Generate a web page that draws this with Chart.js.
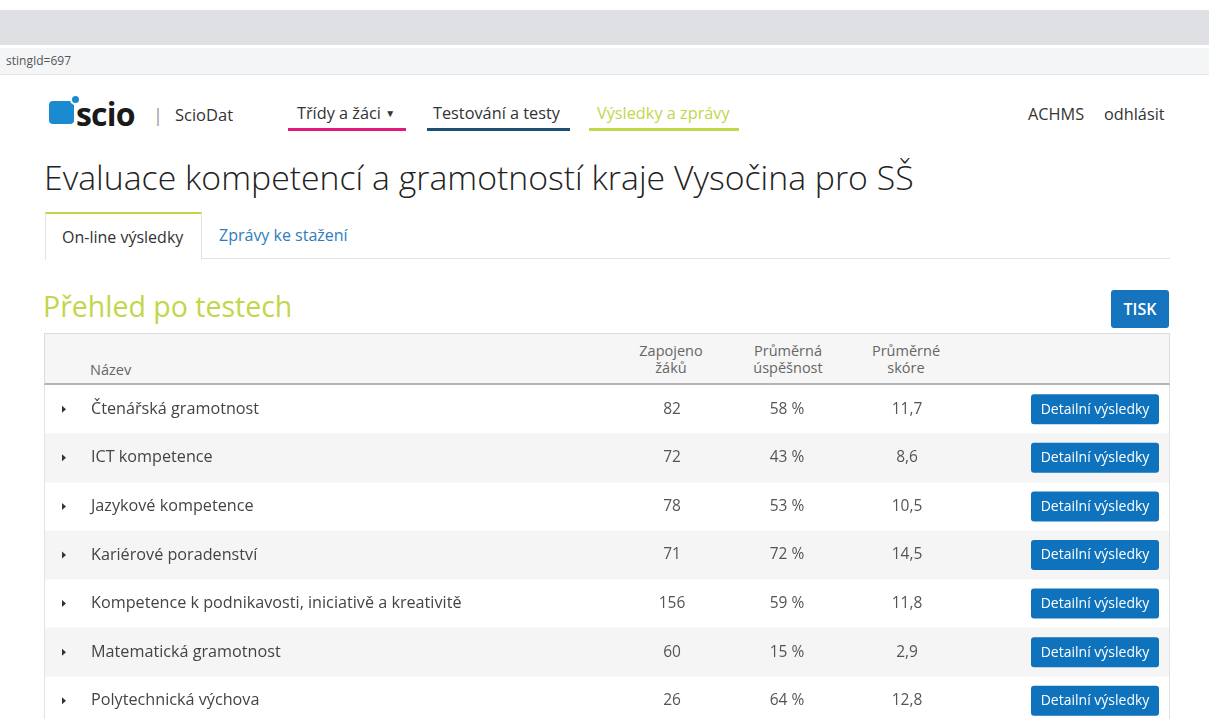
<!DOCTYPE html>
<html lang="cs">
<head>
<meta charset="utf-8">
<title>ScioDat – Přehled po testech</title>
<script src="https://cdn.jsdelivr.net/npm/chart.js@4/dist/chart.umd.min.js"></script>
<style>
  html, body { margin: 0; padding: 0; }
  body {
    width: 1209px; height: 719px; overflow: hidden; position: relative;
    background: #fff; font-family: "Open Sans", "Noto Sans", sans-serif; color: #333;
  }
  .abs { position: absolute; white-space: nowrap; }
  .chrome { left: 0; top: 10px; width: 1209px; height: 35px; background: #dee0e3; }
  .addr { left: 0; top: 48px; width: 1209px; height: 26px; background: #f4f5f6; border-bottom: 1px solid #e6e6e6; }
  .addr span { position: absolute; left: 6px; top: 4px; font-size: 12px; color: #555; }
  .logo-box { left: 49px; top: 101px; width: 25px; height: 23px; background: #1a8ad1; border-radius: 4px; }
  .logo-dot { left: 70px; top: 94px; width: 7px; height: 7px; background: #1a8ad1; border-radius: 50%; border: 2px solid #fff; }
  .logo-txt { left: 76px; top: 92px; font-size: 32px; font-weight: 700; color: #1a1a1a; letter-spacing: -0.8px; }
  .sep { left: 153px; top: 103px; font-size: 18px; color: #999; }
  .app { left: 175px; top: 103px; font-size: 16.5px; color: #333; }
  .nav { top: 102px; font-size: 16.3px; color: #333; }
  .bar { top: 128px; height: 3px; }
  .user { top: 103px; font-size: 16.3px; color: #333; }
  h1 { position: absolute; left: 44px; top: 154px; margin: 0; font-size: 33.8px; font-weight: 300; color: #222; white-space: nowrap; }
  .tab-active { left: 45px; top: 212px; width: 155px; height: 46px; border-top: 2px solid #c3d64a; border-left: 1px solid #e3e3e3; border-right: 1px solid #e3e3e3; background: #fff; }
  .tab-active span { position: absolute; left: 16px; top: 12px; font-size: 16px; color: #333; }
  .tab2 { left: 219px; top: 224px; font-size: 16px; color: #2f7dc0; }
  .tab-line { left: 201px; top: 258px; width: 969px; height: 1px; background: #e3e3e3; }
  h2 { position: absolute; left: 43px; top: 287px; margin: 0; font-size: 28.5px; font-weight: 400; color: #c3d64a; white-space: nowrap; }
  .tisk { left: 1111px; top: 290px; width: 58px; height: 38px; background: #1574bd; border-radius: 3px; color: #fff; font-size: 16px; font-weight: 600; text-align: center; line-height: 38px; }
  .thead { left: 44px; top: 333px; width: 1124px; height: 49px; background: #f6f6f6; border: 1px solid #dcdcdc; border-bottom: 2px solid #b4b4b4; }
  .th { position: absolute; font-size: 14.5px; color: #666; text-align: center; line-height: 17px; }
  .tbody { left: 44px; top: 385px; width: 1124px; height: 340px; border-left: 1px solid #e2e2e2; border-right: 1px solid #e2e2e2; }
</style>
</head>
<body>
<div class="abs chrome"></div>
<div class="abs addr"><span>stingId=697</span></div>

<div class="abs logo-box"></div>
<div class="abs logo-dot"></div>
<div class="abs logo-txt">scio</div>
<div class="abs sep">|</div>
<div class="abs app">ScioDat</div>

<div class="abs nav" style="left:297px">Třídy a žáci <span style="font-size:10px;vertical-align:2px">&#9660;</span></div>
<div class="abs bar" style="left:288px;width:118px;background:#e0197d"></div>
<div class="abs nav" style="left:433px">Testování a testy</div>
<div class="abs bar" style="left:427px;width:143px;background:#1d4f73"></div>
<div class="abs nav" style="left:597px;color:#c3d64a">Výsledky a zprávy</div>
<div class="abs bar" style="left:589px;width:150px;background:#c3d64a"></div>

<div class="abs user" style="left:1028px">ACHMS</div>
<div class="abs user" style="left:1104px">odhlásit</div>

<h1>Evaluace kompetencí a gramotností kraje Vysočina pro SŠ</h1>

<div class="abs tab-active"><span>On-line výsledky</span></div>
<div class="abs tab2">Zprávy ke stažení</div>
<div class="abs tab-line"></div>

<h2>Přehled po testech</h2>
<div class="abs tisk">TISK</div>

<div class="abs thead">
  <div class="th" style="left:45px;top:27px">Název</div>
  <div class="th" style="left:581px;top:8px;width:90px">Zapojeno<br>žáků</div>
  <div class="th" style="left:698px;top:8px;width:90px">Průměrná<br>úspěšnost</div>
  <div class="th" style="left:816px;top:8px;width:90px">Průměrné<br>skóre</div>
</div>

<div class="abs tbody"><canvas id="tableChart"></canvas></div>

<script>
  // table data
  const testNames = [
    "Čtenářská gramotnost",
    "ICT kompetence",
    "Jazykové kompetence",
    "Kariérové poradenství",
    "Kompetence k podnikavosti, iniciativě a kreativitě",
    "Matematická gramotnost",
    "Polytechnická výchova",
  ];
  const studentCounts = [82, 72, 78, 71, 156, 60, 26];
  const avgSuccess = [58, 43, 53, 72, 59, 15, 64];
  const avgScore = [11.7, 8.6, 10.5, 14.5, 11.8, 2.9, 12.8];
  const buttonLabel = "Detailní výsledky";

  (function () {
    "use strict";

    const FONT = '"Open Sans", "Noto Sans", sans-serif';

    // zebra stripes: every other row gets a full-width floating bar
    const stripes = testNames.map((_, i) => (i % 2 ? [0, 1] : null));

    const rowText = {
      id: "rowText",
      afterDatasetsDraw(chart) {
        const { ctx, chartArea, scales } = chart;
        const left = chartArea.left;
        ctx.save();
        ctx.textBaseline = "middle";
        testNames.forEach((name, i) => {
          const y = scales.y.getPixelForValue(i);

          // expand arrow
          ctx.fillStyle = "#333";
          ctx.beginPath();
          ctx.moveTo(left + 17, y - 3.5);
          ctx.lineTo(left + 21, y);
          ctx.lineTo(left + 17, y + 3.5);
          ctx.closePath();
          ctx.fill();

          ctx.font = `16.2px ${FONT}`;
          ctx.fillStyle = "#444";
          ctx.textAlign = "left";
          ctx.fillText(name, left + 46, y);

          ctx.font = `15.5px ${FONT}`;
          ctx.fillStyle = "#555";
          ctx.textAlign = "center";
          ctx.fillText(String(studentCounts[i]), left + 627, y);
          ctx.fillText(`${avgSuccess[i]} %`, left + 742, y);
          ctx.fillText(avgScore[i].toFixed(1).replace(".", ","), left + 862, y);

          // button
          const bx = left + 986, bw = 128, bh = 30;
          ctx.fillStyle = "#0e72bc";
          ctx.beginPath();
          ctx.roundRect(bx, y - bh / 2, bw, bh, 3);
          ctx.fill();
          ctx.fillStyle = "#fff";
          ctx.font = `14px ${FONT}`;
          ctx.fillText(buttonLabel, bx + bw / 2, y + 0.5);
        });
        ctx.restore();
      },
    };

    new Chart(document.getElementById("tableChart"), {
      type: "bar",
      data: {
        labels: testNames,
        datasets: [
          {
            data: stripes,
            backgroundColor: "#f5f5f5",
            barPercentage: 1,
            categoryPercentage: 1,
            borderWidth: 0,
          },
        ],
      },
      options: {
        indexAxis: "y",
        responsive: true,
        maintainAspectRatio: false,
        animation: false,
        layout: { padding: 0 },
        plugins: { legend: { display: false }, tooltip: { enabled: false } },
        scales: {
          x: { display: false, min: 0, max: 1 },
          y: { display: false },
        },
      },
      plugins: [rowText],
    });
  })();
</script>
</body>
</html>
